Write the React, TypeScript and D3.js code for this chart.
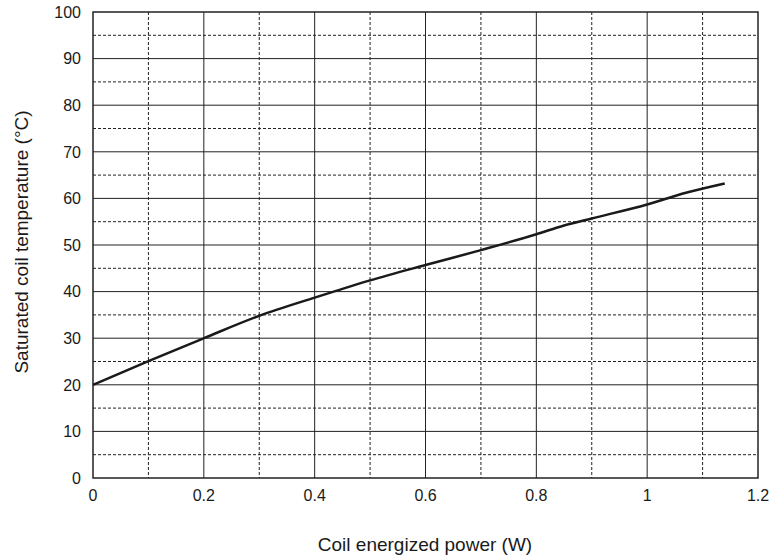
import React from "react";
import * as d3 from "d3";

const powerW = [0.0, 0.1, 0.2, 0.3, 0.4, 0.44, 0.5, 0.6, 0.7, 0.8, 0.85, 0.9, 1.0, 1.07, 1.14];
const tempC = [20.0, 25.1, 30.0, 34.8, 38.7, 40.2, 42.4, 45.7, 48.9, 52.3, 54.2, 55.7, 58.7, 61.2, 63.2];
const xTicks = [0, 0.2, 0.4, 0.6, 0.8, 1, 1.2];
const yTicks = [0, 10, 20, 30, 40, 50, 60, 70, 80, 90, 100];
const xMinor = [0.1, 0.3, 0.5, 0.7, 0.9, 1.1];
const yMinor = [5, 15, 25, 35, 45, 55, 65, 75, 85, 95];

export default function App() {
  const W = 774, H = 558;
  const left = 93, right = 758, top = 12, bottom = 478;
  const x = d3.scaleLinear().domain([0, 1.2]).range([left, right]);
  const y = d3.scaleLinear().domain([0, 100]).range([bottom, top]);
  const line = d3.line<number>().x((_, i) => x(powerW[i])).y((d) => y(d)).curve(d3.curveMonotoneX);
  const font = "Liberation Sans, Arial, sans-serif";
  return (
    <svg width={W} height={H} style={{ position: "absolute", left: 0, top: 0 }}>
      <rect width={W} height={H} fill="#fff" />
      {xMinor.map((v) => (
        <line key={"xm" + v} x1={x(v)} x2={x(v)} y1={top} y2={bottom} stroke="#222" strokeWidth={1} strokeDasharray="3,2" />
      ))}
      {yMinor.map((v) => (
        <line key={"ym" + v} x1={left} x2={right} y1={y(v)} y2={y(v)} stroke="#222" strokeWidth={1} strokeDasharray="3,2" />
      ))}
      {xTicks.slice(1, -1).map((v) => (
        <line key={"xg" + v} x1={x(v)} x2={x(v)} y1={top} y2={bottom} stroke="#222" strokeWidth={1} />
      ))}
      {yTicks.slice(1, -1).map((v) => (
        <line key={"yg" + v} x1={left} x2={right} y1={y(v)} y2={y(v)} stroke="#222" strokeWidth={1} />
      ))}
      <rect x={left} y={top} width={right - left} height={bottom - top} fill="none" stroke="#222" strokeWidth={1.5} />
      <path d={line(tempC) || ""} fill="none" stroke="#1a1a1a" strokeWidth={2.5} />
      {yTicks.map((v) => (
        <text key={"yt" + v} x={left - 12} y={y(v)} dy="0.36em" textAnchor="end" fontFamily={font} fontSize={16} fill="#1a1a1a">
          {v}
        </text>
      ))}
      {xTicks.map((v) => (
        <text key={"xt" + v} x={x(v)} y={bottom + 23} textAnchor="middle" fontFamily={font} fontSize={16} fill="#1a1a1a">
          {String(v)}
        </text>
      ))}
      <text x={425} y={551} textAnchor="middle" fontFamily={font} fontSize={19} fill="#1a1a1a">
        Coil energized power (W)
      </text>
      <text transform={`translate(28,242) rotate(-90)`} textAnchor="middle" fontFamily={font} fontSize={19} fill="#1a1a1a">
        Saturated coil temperature (°C)
      </text>
    </svg>
  );
}
